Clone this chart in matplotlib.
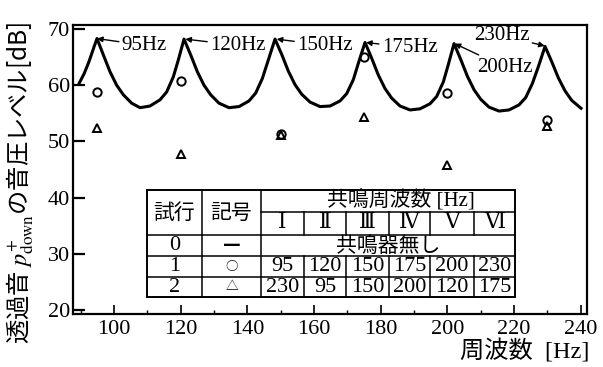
import matplotlib.pyplot as plt
from matplotlib.lines import Line2D

plt.rcParams['mathtext.fontset'] = 'stix'
serif_jp = ['Liberation Serif', 'DejaVu Serif', 'Noto Sans CJK JP']
sans_jp = ['Noto Sans CJK JP', 'DejaVu Sans']

# trial 0 : no resonator (solid curve)
curve_freq = [89.6, 91.0, 92.5, 94.0, 94.9,
              96.8, 98.8, 100.8, 102.8, 105.3, 107.8, 110.8, 113.8, 115.8, 117.8, 119.3, 121.0,
              123.0, 125.0, 127.0, 129.0, 131.5, 134.5, 137.5, 140.5, 142.5, 144.5, 146.3, 148.3,
              150.3, 152.3, 154.3, 156.3, 158.8, 161.8, 164.8, 167.8, 169.8, 171.8, 173.4, 175.3,
              177.3, 179.3, 181.3, 183.3, 185.8, 188.8, 191.8, 194.8, 196.8, 198.8, 200.3, 202.0,
              204.0, 206.0, 208.0, 210.0, 212.5, 215.5, 218.5, 221.5, 223.5, 225.5, 227.3, 229.3,
              231.3, 233.3, 235.3, 237.3, 240.1]
curve_level = [60.4, 62.0, 64.2, 66.8, 68.3,
               65.4, 62.4, 60.0, 58.3, 56.8, 56.0, 56.3, 57.4, 58.8, 61.5, 64.5, 68.2,
               65.4, 62.4, 60.0, 58.3, 56.8, 56.0, 56.2, 57.2, 58.6, 61.2, 64.5, 68.2,
               65.5, 62.5, 60.1, 58.4, 57.0, 56.2, 56.3, 57.2, 58.5, 61.0, 64.1, 67.6,
               64.8, 61.8, 59.4, 57.7, 56.3, 55.6, 55.8, 56.7, 58.0, 60.6, 63.7, 67.4,
               64.6, 61.6, 59.2, 57.5, 56.1, 55.4, 55.6, 56.5, 57.8, 60.3, 63.3, 66.9,
               64.2, 61.3, 59.0, 57.3, 55.9]

# trials 1 and 2, level at each resonance frequency
res_freq = [95, 120, 150, 175, 200, 230]
trial1_level = [58.8, 60.7, 51.4, 65.0, 58.7, 53.9]
trial2_level = [52.3, 47.8, 51.2, 54.3, 45.8, 52.7]

# table contents
numerals = ['Ⅰ', 'Ⅱ', 'Ⅲ', 'Ⅳ', 'Ⅴ', 'Ⅵ']
trial_ids = ['0', '1', '2']
trial_marks = ['—', '○', '△']
trial1_freqs = [95, 120, 150, 175, 200, 230]
trial2_freqs = [230, 95, 150, 200, 120, 175]

W, H = 603, 367
fig = plt.figure(figsize=(W / 100, H / 100), dpi=100)
ax = fig.add_axes([73 / W, 1 - 314 / H, 513.7 / W, 289.5 / H])

ax.plot(curve_freq, curve_level, color='black', lw=2.2)
ax.plot(res_freq, trial1_level, 'o', ms=6, mfc='none', mec='black', mew=1.4)
ax.plot(res_freq, trial2_level, '^', ms=6, mfc='none', mec='black', mew=1.4)

# peak labels
arrow = dict(arrowstyle='-|>', color='black', lw=1.0, mutation_scale=8, shrinkA=0, shrinkB=0)
peaks = [('95Hz', 94.9, 68.3, 102.3, 67.1, 'left'),
         ('120Hz', 121.4, 68.2, 128.8, 67.1, 'left'),
         ('150Hz', 148.8, 68.2, 154.9, 67.1, 'left'),
         ('175Hz', 175.6, 67.6, 180.3, 66.7, 'left'),
         ('230Hz', 229.2, 67.0, 216.3, 68.8, 'center'),
         ('200Hz', 202.2, 67.4, 217.2, 63.2, 'center')]
for txt, px, py, tx, ty, ha in peaks:
    ax.annotate(txt, xy=(px, py), xytext=(tx, ty), ha=ha, va='center',
                fontsize=15, family=serif_jp, arrowprops=arrow)

ax.set_xlim(87.7, 241.8)
ax.set_ylim(19.3, 70.8)
ax.set_xticks(range(100, 241, 20))
ax.set_xticks(range(90, 241, 20), minor=True)
ax.set_yticks(range(20, 71, 10))
ax.tick_params(axis='x', which='major', direction='in', length=6.5, width=1.2, pad=4)
ax.tick_params(axis='x', which='minor', direction='in', length=3.2, width=1.0)
ax.tick_params(axis='y', direction='in', length=8.5, width=1.6, pad=2)
for lab in ax.get_xticklabels() + ax.get_yticklabels():
    lab.set_family(serif_jp)
    lab.set_fontsize(16)
for s in ax.spines.values():
    s.set_linewidth(1.6)

# axis titles
fig.text(20 / W, 1 - 183 / H, '透過音 $p^{+}_{\\mathrm{down}}$の音圧レベル[dB]',
         rotation=90, ha='center', va='center', fontsize=17.5, family=sans_jp)
fig.text(589 / W, 1 - 351 / H, '周波数  [Hz]', ha='right', va='center',
         fontsize=17.5, family=serif_jp)

# table drawn in figure pixels
def fx(p):
    return p / W

def fy(p):
    return 1 - p / H

def hline(y, x0, x1, lw=1.1):
    fig.add_artist(Line2D([fx(x0), fx(x1)], [fy(y), fy(y)], color='black', lw=lw))

def vline(x, y0, y1, lw=1.1):
    fig.add_artist(Line2D([fx(x), fx(x)], [fy(y0), fy(y1)], color='black', lw=lw))

col_x = [146.7, 202.3, 260.7, 304.0, 346.0, 389.3, 430.0, 474.0, 515.0]
row_y = [190.0, 212.3, 235.0, 256.0, 276.7, 297.3]

hline(row_y[0], col_x[0], col_x[-1], 1.4)
hline(row_y[-1], col_x[0], col_x[-1], 1.4)
vline(col_x[0], row_y[0], row_y[-1], 1.4)
vline(col_x[-1], row_y[0], row_y[-1], 1.4)
hline(row_y[1], col_x[2], col_x[-1])
for y in row_y[2:5]:
    hline(y, col_x[0], col_x[-1])
for x in col_x[1:3]:
    vline(x, row_y[0], row_y[-1])
for x in col_x[3:8]:
    vline(x, row_y[1], row_y[2])
    vline(x, row_y[3], row_y[5])

def cell(txt, x, y, size=14, fam=serif_jp, **kw):
    fig.text(fx(x), fy(y), txt, ha='center', va='center', fontsize=size, family=fam, **kw)

c1 = (col_x[0] + col_x[1]) / 2
c2 = (col_x[1] + col_x[2]) / 2
head_y = (row_y[0] + row_y[2]) / 2
cell('試行', c1, head_y, 15, sans_jp)
cell('記号', c2, head_y, 15, sans_jp)
cell('共鳴周波数 [Hz]', 401, (row_y[0] + row_y[1]) / 2, 15)
for i, n in enumerate(numerals):
    cell(n, (col_x[i + 2] + col_x[i + 3]) / 2, (row_y[1] + row_y[2]) / 2, 15.5)

for r, (tid, mark) in enumerate(zip(trial_ids, trial_marks)):
    ym = (row_y[r + 2] + row_y[r + 3]) / 2
    cell(tid, c1, ym, 16)
    if mark == '—':
        cell(mark, c2, ym, 14, sans_jp, fontweight='bold')
    else:
        cell(mark, c2, ym, 9, sans_jp)

cell('共鳴器無し', (col_x[2] + col_x[-1]) / 2, (row_y[2] + row_y[3]) / 2, 15, sans_jp)
for r, vals in enumerate([trial1_freqs, trial2_freqs]):
    ym = (row_y[r + 3] + row_y[r + 4]) / 2
    for i, v in enumerate(vals):
        cell(str(v), (col_x[i + 2] + col_x[i + 3]) / 2, ym, 16)

fig.savefig('out.png', dpi=100)
